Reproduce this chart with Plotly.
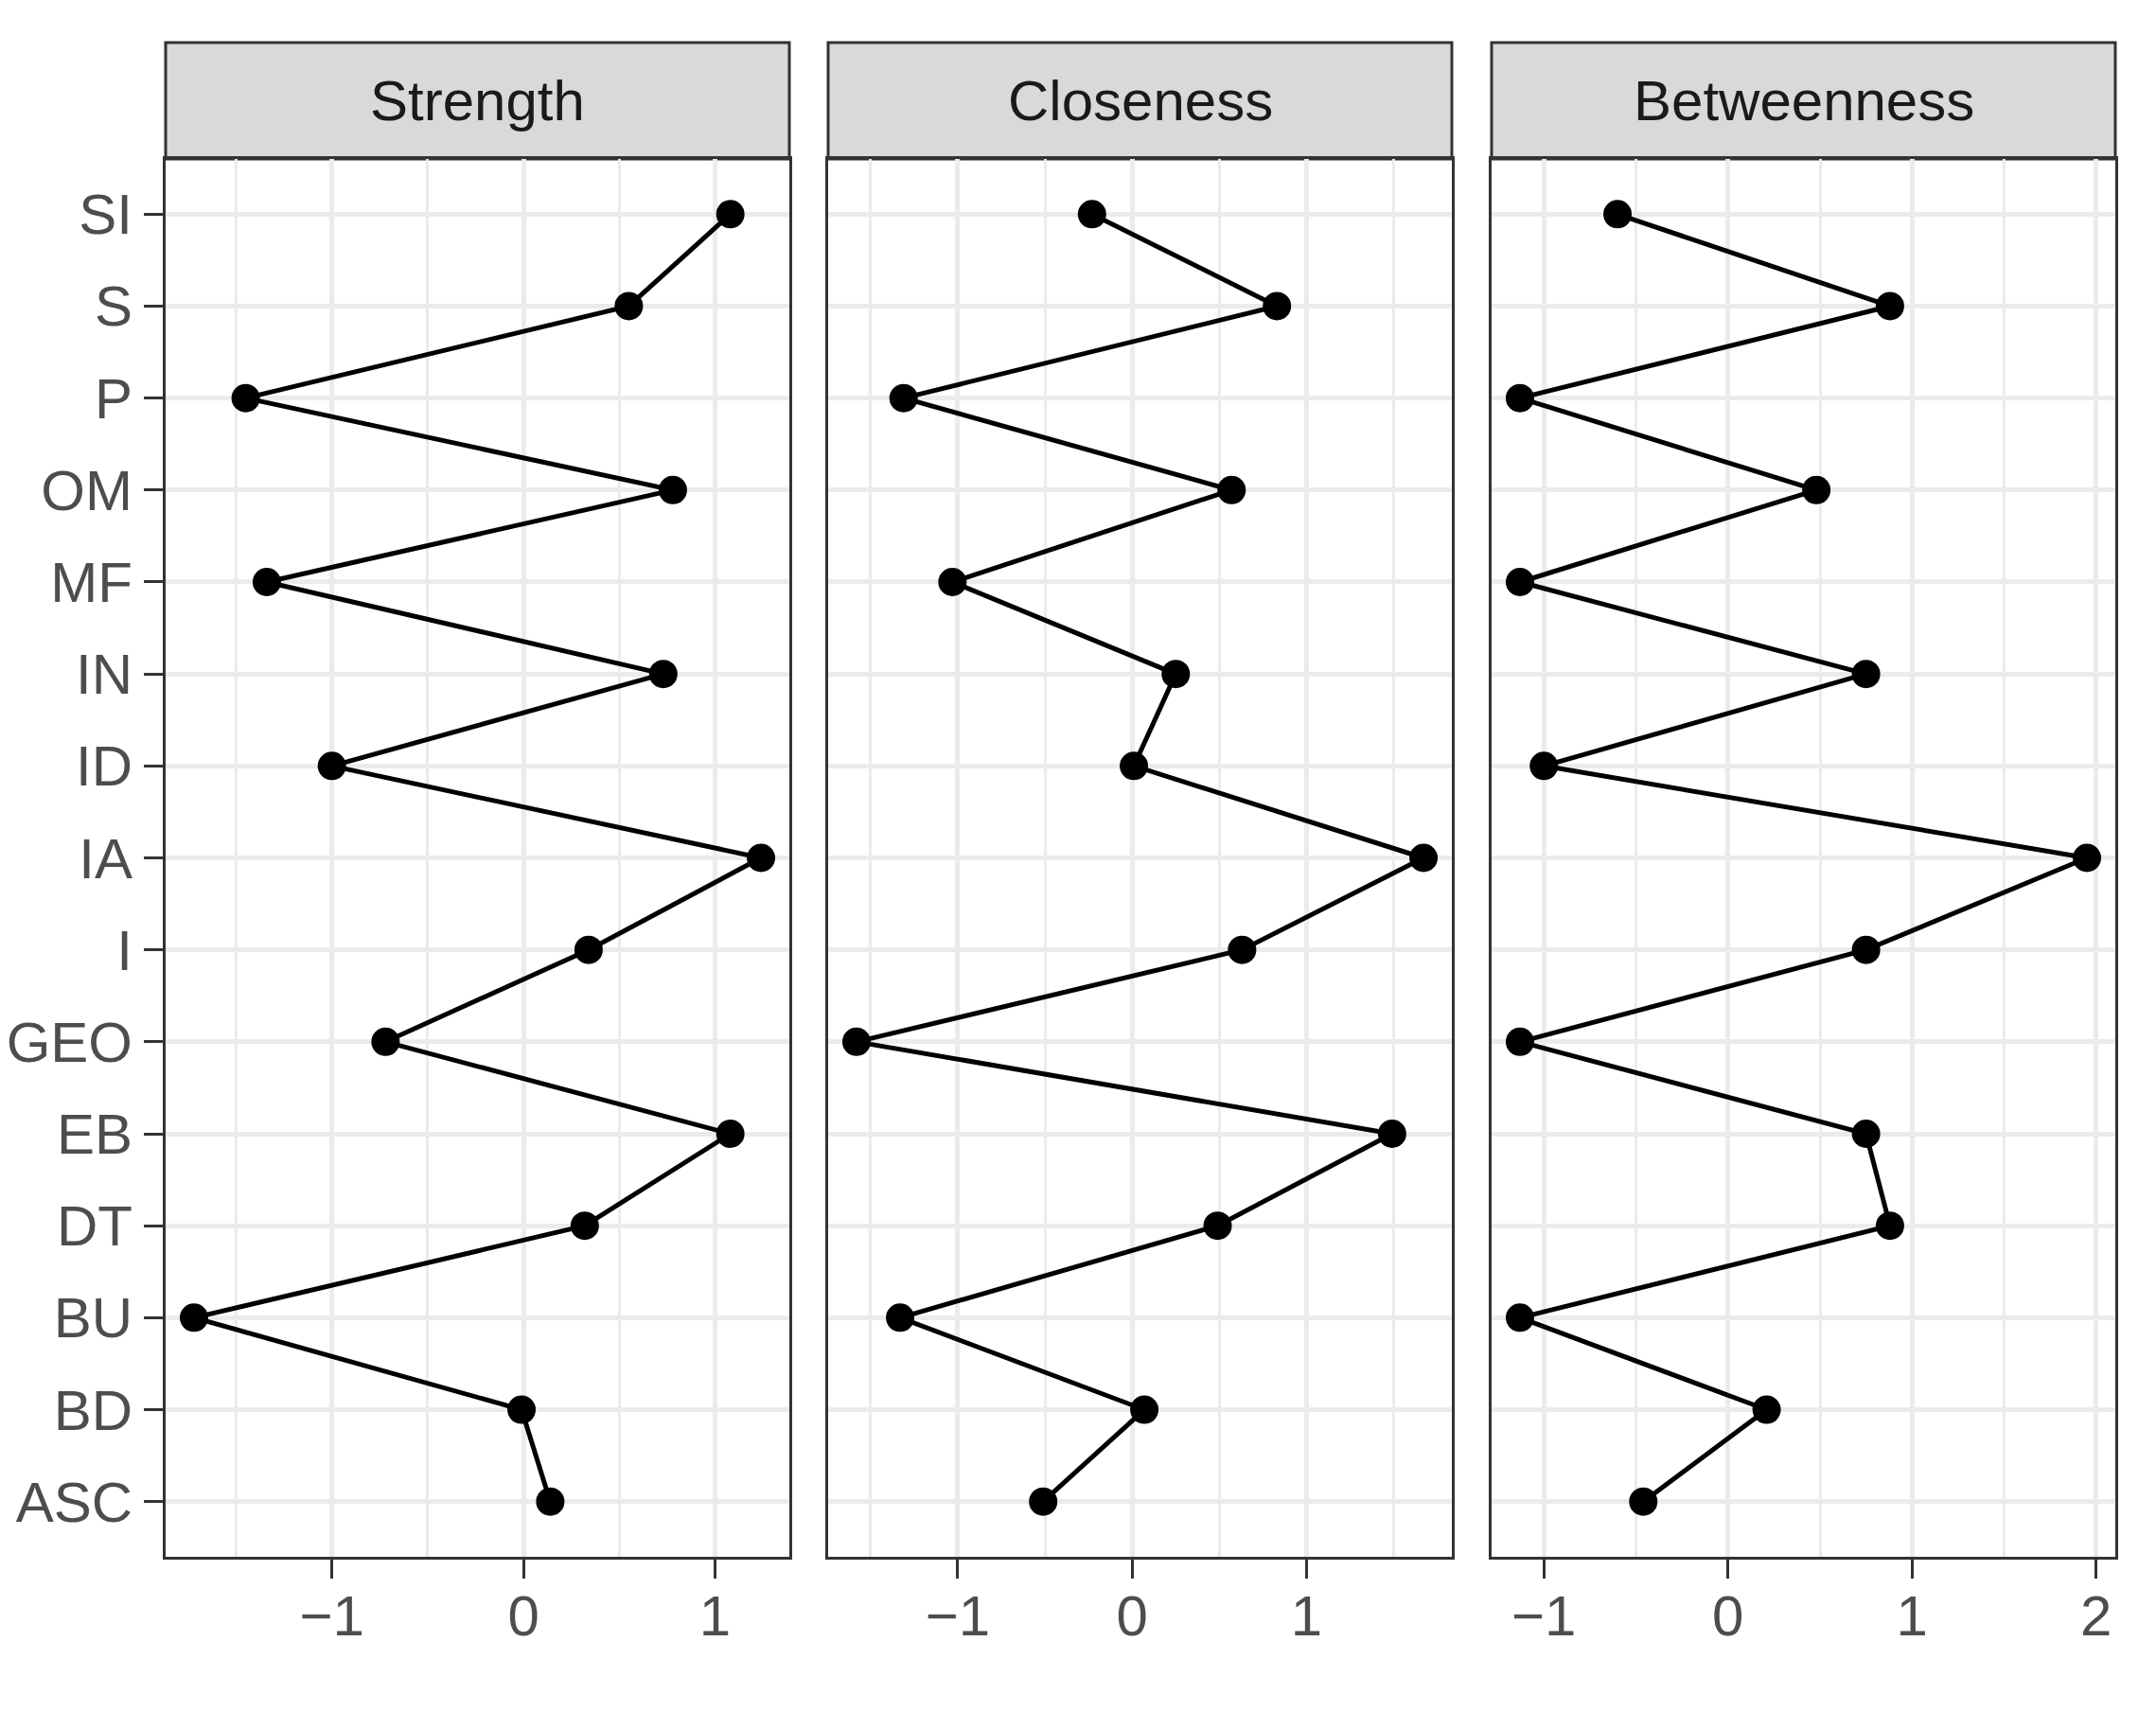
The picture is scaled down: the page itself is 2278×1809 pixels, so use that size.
import plotly.graph_objects as go

# Categories top-to-bottom as in the chart
categories = ["SI", "S", "P", "OM", "MF", "IN", "ID", "IA", "I", "GEO", "EB", "DT", "BU", "BD", "ASC"]

strength = [1.08, 0.55, -1.45, 0.78, -1.34, 0.73, -1.00, 1.24, 0.34, -0.72, 1.08, 0.32, -1.72, -0.01, 0.14]
closeness = [-0.23, 0.83, -1.31, 0.57, -1.03, 0.25, 0.01, 1.67, 0.63, -1.58, 1.49, 0.49, -1.33, 0.07, -0.51]
betweenness = [-0.60, 0.88, -1.13, 0.48, -1.13, 0.75, -1.00, 1.95, 0.75, -1.13, 0.75, 0.88, -1.13, 0.21, -0.46]

panel_titles = ["Strength", "Closeness", "Betweenness"]
panel_values = [strength, closeness, betweenness]
panel_ticks = [[-1, 0, 1], [-1, 0, 1], [-1, 0, 1, 2]]

W, H = 2278, 1809
ML, MR, MT, MB = 175, 43, 45, 164
plot_w = W - ML - MR
plot_h = H - MT - MB

def px_x(p):
    return (p - ML) / plot_w

def px_y(p):
    return 1 - (p - MT) / plot_h

panel_px = [(175, 834), (875, 1534), (1576, 2235)]
panel_top_px = 168
y_top = px_y(panel_top_px)

FONT = "Liberation Sans"
GRID = "#EBEBEB"
BORDER = "#333333"
FS = 60

fig = go.Figure()
shapes = []
annotations = []

for i, (title, vals, ticks) in enumerate(zip(panel_titles, panel_values, panel_ticks)):
    xa = "x" if i == 0 else f"x{i+1}"
    ya = "y" if i == 0 else f"y{i+1}"
    fig.add_trace(go.Scatter(
        x=vals, y=categories, xaxis=xa, yaxis=ya,
        mode="lines+markers",
        line=dict(color="black", width=5),
        marker=dict(color="black", size=30),
        showlegend=False, hoverinfo="x+y",
    ))
    vmin, vmax = min(vals), max(vals)
    span = vmax - vmin
    xr = [vmin - 0.05 * span, vmax + 0.05 * span]
    d0, d1 = px_x(panel_px[i][0]), px_x(panel_px[i][1])
    xkey = "xaxis" if i == 0 else f"xaxis{i+1}"
    ykey = "yaxis" if i == 0 else f"yaxis{i+1}"
    fig.layout[xkey] = dict(
        domain=[d0, d1], range=xr, anchor=ya, automargin=False,
        tickvals=ticks, ticktext=[("\u2212" + str(abs(t))) if t < 0 else str(t) for t in ticks],
        showgrid=True, gridcolor=GRID, gridwidth=5,
        minor=dict(dtick=0.5, tick0=0.5, showgrid=True, gridcolor=GRID, gridwidth=2.5, ticks=""),
        zeroline=False,
        showline=True, mirror=True, linecolor=BORDER, linewidth=3,
        ticks="outside", ticklen=20, tickwidth=3, tickcolor=BORDER,
        tickfont=dict(family=FONT, size=FS, color="#4D4D4D"),
        ticklabelstandoff=-12,
    )
    fig.layout[ykey] = dict(
        domain=[0, y_top], anchor=xa, automargin=False,
        type="category", categoryorder="array", categoryarray=categories[::-1],
        range=[-0.6, len(categories) - 0.4],
        showgrid=True, gridcolor=GRID, gridwidth=5,
        zeroline=False,
        showline=True, mirror=True, linecolor=BORDER, linewidth=3,
        ticks="outside" if i == 0 else "", ticklen=20, tickwidth=3, tickcolor=BORDER,
        showticklabels=(i == 0),
        tickfont=dict(family=FONT, size=FS, color="#4D4D4D"),
        ticklabelstandoff=0,
    )
    # strip
    shapes.append(dict(type="rect", xref="paper", yref="paper",
                       x0=d0, x1=d1, y0=y_top, y1=1.0,
                       fillcolor="#D9D9D9", line=dict(color=BORDER, width=3), layer="below"))
    annotations.append(dict(text=title, xref="paper", yref="paper",
                            x=(d0 + d1) / 2, y=(y_top + 1.0) / 2,
                            xanchor="center", yanchor="middle", showarrow=False,
                            font=dict(family=FONT, size=FS, color="#1A1A1A")))

fig.update_layout(
    width=W, height=H,
    margin=dict(l=ML, r=MR, t=MT, b=MB, autoexpand=False),
    paper_bgcolor="white", plot_bgcolor="white",
    shapes=shapes, annotations=annotations,
    showlegend=False,
)

fig.write_html("out.html", config={"displayModeBar": False},
               post_script="document.body.style.margin='0';")
